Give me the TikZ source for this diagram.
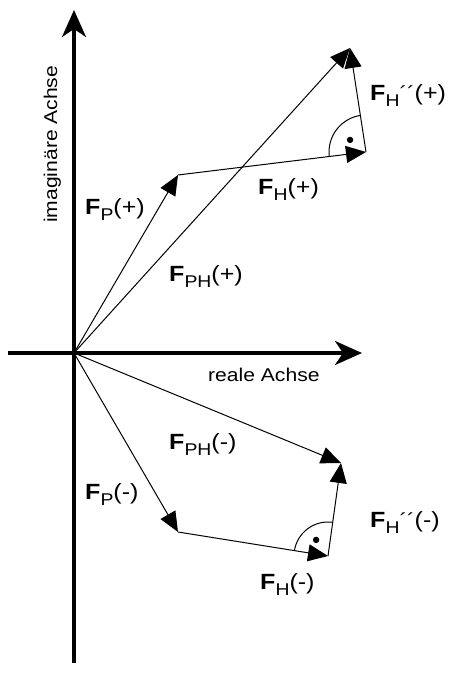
\documentclass[tikz,border=0pt]{standalone}
\usepackage{fontspec}
\setmainfont{Liberation Sans}[FakeStretch=1.14]
\usetikzlibrary{arrows.meta,calc}
\newcommand{\fsub}[1]{\raisebox{-6pt}{\fontsize{17}{17}\selectfont #1}}
\newcommand{\force}[2]{\textbf{F}\fsub{#1}(#2)}
\newcommand{\forcepp}[2]{\textbf{F}\fsub{#1}\raisebox{0pt}{\fontsize{20}{20}\selectfont ´´}(#2)}

\begin{document}
\begin{tikzpicture}[x=1pt, y=1pt,
  axis/.style={line width=3.3pt, -{Stealth[length=27pt, width=24pt, inset=8pt]}},
  vec/.style={line width=1pt, -{Triangle[length=20pt, width=17pt]}},
  lbl/.style={inner sep=0pt, anchor=base west, font=\fontsize{22}{22}\selectfont},
  axlbl/.style={inner sep=0pt, anchor=base west, font=\fontsize{18.5}{18.5}\selectfont},
  rect/.style={line width=1pt}]
  \useasboundingbox (0,0) rectangle (452,674);
  \coordinate (O) at (74,321);
  \coordinate (ybot) at (74,11);
  \coordinate (ytop) at (74,664);
  \coordinate (xleft) at (8,321);
  \coordinate (xright) at (362,321);
  \coordinate (Pp) at (178,499);
  \coordinate (Hp) at (366,522);
  \coordinate (Tp) at (350,626);
  \coordinate (Pm) at (178,142);
  \coordinate (Hm) at (328,118);
  \coordinate (Tm) at (341,211);
  \draw[axis] (ybot) -- (ytop);
  \draw[axis] (xleft) -- (xright);
  \draw[vec] (O) -- (Pp);
  \draw[vec] (Pp) -- (Hp);
  \draw[vec] (Hp) -- (Tp);
  \draw[vec] (O) -- (Tp);
  \draw[vec] (O) -- (Pm);
  \draw[vec] (Pm) -- (Hm);
  \draw[vec] (Hm) -- (Tm);
  \draw[vec] (O) -- (Tm);
  \draw[rect] ($(Hp)!37pt!(Tp)$) arc[start angle=98.75, end angle=186.97, radius=37pt];
  \fill ($(Hp)+(142.9:20pt)$) circle (3.2pt);
  \draw[rect] ($(Hm)!34pt!(Tm)$) arc[start angle=82.04, end angle=170.9, radius=34pt];
  \fill ($(Hm)+(126.5:20pt)$) circle (3.2pt);
  \node[axlbl, rotate=90] (imag) at (57,451) {imaginäre Achse};
  \node[axlbl] (real) at (208,292) {reale Achse};
  \node[lbl] (lPp) at (85,459) {\force{P}{+}};
  \node[lbl] (lTp) at (169,392) {\force{PH}{+}};
  \node[lbl] (lHp) at (258,479) {\force{H}{+}};
  \node[lbl] (lRp) at (370,573) {\forcepp{H}{+}};
  \node[lbl] (lTm) at (169,224) {\force{PH}{-}};
  \node[lbl] (lPm) at (85,174) {\force{P}{-}};
  \node[lbl] (lRm) at (370,146) {\forcepp{H}{-}};
  \node[lbl] (lHm) at (260,84) {\force{H}{-}};
\end{tikzpicture}
\end{document}
